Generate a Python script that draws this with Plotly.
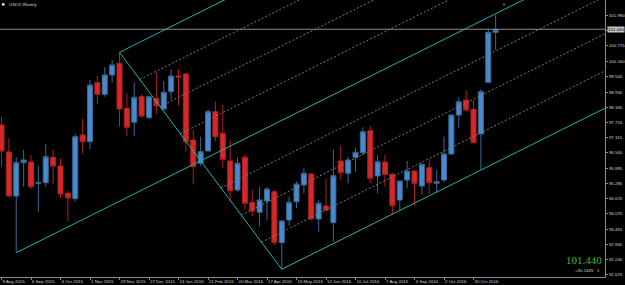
import pandas as pd
import plotly.graph_objects as go

# ---------------- data ----------------
first_week = "2015-08-09"
n_weeks = 68
weeks = pd.date_range(first_week, periods=n_weeks, freq="7D")

open_ = [97.615, 96.537, 94.779, 96.109, 96.137, 95.286, 95.310, 96.325, 95.977, 94.887,
         94.671, 97.216, 96.948, 99.305, 98.842, 99.613, 100.080, 98.282, 97.723, 98.746,
         97.907, 98.682, 98.255, 98.946, 99.573, 99.653, 97.016, 96.085, 96.577, 98.147,
         97.284, 96.177, 95.019, 96.325, 94.527, 94.128, 94.579, 94.951, 92.913, 93.820,
         94.551, 95.218, 95.658, 93.860, 94.379, 93.712, 96.177, 95.686, 96.325, 96.509,
         97.388, 95.578, 96.137, 95.646, 94.619, 95.418, 95.778, 95.178, 95.909, 95.286,
         95.418, 96.457, 98.015, 98.614, 98.242, 97.256, 99.321, 101.319]
high = [97.947, 97.084, 96.325, 96.617, 96.417, 95.977, 96.844, 96.645, 96.269, 94.991,
        97.256, 97.855, 99.413, 99.573, 99.920, 100.212, 100.520, 98.882, 99.305, 98.842,
        98.774, 99.721, 99.373, 99.841, 99.841, 99.693, 97.443, 97.148, 98.243, 98.546,
        98.414, 97.044, 96.325, 96.417, 95.019, 95.150, 95.138, 95.019, 93.820, 94.751,
        95.350, 95.886, 95.698, 94.619, 95.458, 96.645, 96.776, 96.349, 96.709, 97.523,
        97.575, 96.417, 96.417, 95.710, 95.400, 96.177, 95.778, 96.085, 96.245, 95.818,
        97.148, 98.015, 98.722, 99.013, 98.614, 99.041, 101.478, 102.010]
low = [95.949, 94.739, 92.514, 95.150, 95.070, 94.152, 95.126, 95.258, 94.699, 93.780,
       94.551, 96.485, 96.656, 98.454, 98.746, 99.305, 97.547, 97.176, 97.176, 97.883,
       97.855, 98.055, 98.175, 98.642, 98.414, 96.549, 95.258, 95.977, 96.549, 96.976,
       95.909, 94.579, 94.951, 94.247, 93.980, 93.552, 93.792, 92.821, 91.851, 93.592,
       94.287, 94.887, 93.820, 93.353, 94.180, 92.953, 95.418, 95.286, 95.750, 96.417,
       95.286, 94.887, 95.150, 94.020, 94.191, 95.086, 94.391, 94.847, 94.859, 94.911,
       95.310, 96.417, 97.507, 98.147, 96.908, 95.818, 99.321, 100.612]
close = [96.577, 94.779, 96.109, 96.217, 95.150, 95.310, 96.349, 95.977, 94.859, 94.699,
         97.148, 96.948, 99.213, 98.842, 99.613, 100.012, 98.255, 97.523, 98.722, 97.975,
         98.746, 98.386, 98.922, 99.573, 99.533, 96.948, 95.949, 96.549, 98.147, 97.148,
         96.245, 94.991, 96.085, 94.487, 94.180, 94.619, 95.058, 92.929, 93.780, 94.527,
         95.258, 95.686, 93.860, 94.487, 94.219, 95.590, 95.710, 96.217, 96.525, 97.348,
         95.486, 96.149, 95.638, 94.391, 95.378, 95.778, 95.286, 96.045, 95.310, 95.350,
         96.457, 98.015, 98.546, 98.215, 96.908, 98.946, 101.319, 101.440]

x_tick_labels = ["9 Aug 2015", "6 Sep 2015", "4 Oct 2015", "1 Nov 2015", "29 Nov 2015",
                 "27 Dec 2015", "24 Jan 2016", "21 Feb 2016", "20 Mar 2016", "17 Apr 2016",
                 "15 May 2016", "12 Jun 2016", "10 Jul 2016", "7 Aug 2016", "4 Sep 2016",
                 "2 Oct 2016", "30 Oct 2016"]
x_tick_step = 4

y_tick_labels = ["101.990", "101.385", "100.775", "100.160", "99.545", "98.930", "98.330",
                 "97.715", "97.115", "96.500", "95.885", "95.285", "94.670", "94.070",
                 "93.455", "92.840", "92.240", "91.625"]
hidden_y_label = "101.385"   # covered by the current price box

# Andrews' pitchfork anchors: (bar index, which price)
pf_anchor_a = (2, "low")
pf_anchor_b = (16, "high")
pf_anchor_c = (38, "low")
pf_levels = [0.25, 0.5, 0.75]

symbol_title = "USDX,Weekly"
info_text = "+90.1445 : 1"

# ---------------- figure ----------------
idx = list(range(n_weeks))
series = {"open": open_, "high": high, "low": low, "close": close}

W, H = 625, 285
ML, MR, MT, MB = 0, 20, 0, 8
PW, PH = W - ML - MR, H - MT - MB
BAR_PX = 7.375
X0_PX = 1.5
x_range = [-X0_PX / BAR_PX, (PW - X0_PX) / BAR_PX]
y_range = [91.543, 102.609]

fig = go.Figure()
fig.add_trace(go.Candlestick(
    x=idx, open=open_, high=high, low=low, close=close,
    increasing=dict(line=dict(color="#3b6894", width=1), fillcolor="#4a89cf"),
    decreasing=dict(line=dict(color="#b41f1f", width=1), fillcolor="#d22a2a"),
    whiskerwidth=0, hoverinfo="skip", showlegend=False,
))

# pitchfork
def anchor(a):
    i, f = a
    return i, series[f][i]

ax_, ay_ = anchor(pf_anchor_a)
bx_, by_ = anchor(pf_anchor_b)
cx_, cy_ = anchor(pf_anchor_c)
mx_, my_ = (bx_ + cx_) / 2, (by_ + cy_) / 2
slope = (my_ - ay_) / (mx_ - ax_)
X_END = x_range[1] + 10
CYAN = "#20b2aa"

def ray(x0, y0, **line):
    fig.add_trace(go.Scatter(x=[x0, X_END], y=[y0, y0 + slope * (X_END - x0)],
                             mode="lines", line=line, hoverinfo="skip", showlegend=False))

for k in pf_levels:
    for (px, py) in ((bx_, by_), (cx_, cy_)):
        sx = mx_ + k * (px - mx_)
        sy = my_ + k * (py - my_)
        ray(sx, sy, color="#7c7c7c", width=1, dash="2px,2px")

ray(ax_, ay_, color=CYAN, width=1)
ray(bx_, by_, color=CYAN, width=1)
ray(cx_, cy_, color=CYAN, width=1)
fig.add_trace(go.Scatter(x=[bx_, cx_], y=[by_, cy_], mode="lines",
                         line=dict(color=CYAN, width=1), hoverinfo="skip", showlegend=False))

last = close[-1]
fig.add_shape(type="line", xref="paper", x0=0, x1=1, yref="y", y0=last, y1=last,
              line=dict(color="#8a8a8a", width=1))

TICK_FONT = dict(family="Liberation Sans", size=4.4, color="#d0d0d0")
fig.update_layout(
    width=W, height=H, margin=dict(l=ML, r=MR, t=MT, b=MB),
    paper_bgcolor="black", plot_bgcolor="black",
    boxgap=0.32, boxgroupgap=0,
    xaxis=dict(range=x_range, showgrid=False, zeroline=False, rangeslider=dict(visible=False),
               tickvals=[i * x_tick_step for i in range(len(x_tick_labels))],
               ticktext=x_tick_labels, ticks="outside", ticklen=2, tickcolor="#8a8a8a",
               ticklabelposition="outside right", tickfont=TICK_FONT, tickangle=0,
               showline=True, linecolor="#8a8a8a", linewidth=1, mirror=True, fixedrange=True),
    yaxis=dict(range=y_range, side="right", showgrid=False, zeroline=False,
               tickvals=[float(t) for t in y_tick_labels],
               ticktext=["" if t == hidden_y_label else t for t in y_tick_labels],
               ticks="outside", ticklen=2, tickcolor="#8a8a8a", tickfont=TICK_FONT,
               showline=True, linecolor="#8a8a8a", linewidth=1, mirror=True, fixedrange=True),
)

# current price box on the axis
fig.add_annotation(xref="paper", x=1, xanchor="left", xshift=2, yref="y", y=last,
                   text=f"{last:.3f}", showarrow=False, bgcolor="#c4c4c4", borderpad=0,
                   font=dict(family="Liberation Sans", size=4.4, color="#000000"))
# title
fig.add_shape(type="rect", xref="paper", yref="paper", x0=2 / PW, x1=4.5 / PW,
              y0=1 - 5.5 / PH, y1=1 - 3.3 / PH, fillcolor="white", line=dict(width=0))
fig.add_annotation(xref="paper", yref="paper", x=7 / PW, y=1 - 4.5 / PH, xanchor="left",
                   yanchor="middle", text=symbol_title, showarrow=False,
                   font=dict(family="Liberation Sans", size=4.4, color="#d0d0d0"))
# chart shift marker
fig.add_annotation(xref="paper", yref="paper", x=508 / PW, y=1, yanchor="top", text="▼",
                   showarrow=False, font=dict(size=4, color="#8a8a8a"))
# big price text
fig.add_annotation(xref="paper", yref="paper", x=1, y=1 - 260 / PH, xanchor="right",
                   yanchor="middle", xshift=-1, text=f"{last:.3f}", showarrow=False,
                   font=dict(family="Liberation Serif", size=11, color="#2fbf2f"))
fig.add_annotation(xref="paper", yref="paper", x=1, y=1 - 270.5 / PH, xanchor="right",
                   yanchor="middle", xshift=-3, text=info_text, showarrow=False,
                   font=dict(family="Liberation Sans", size=4.4, color="#d0d0d0"))

fig.write_html("out.html")
